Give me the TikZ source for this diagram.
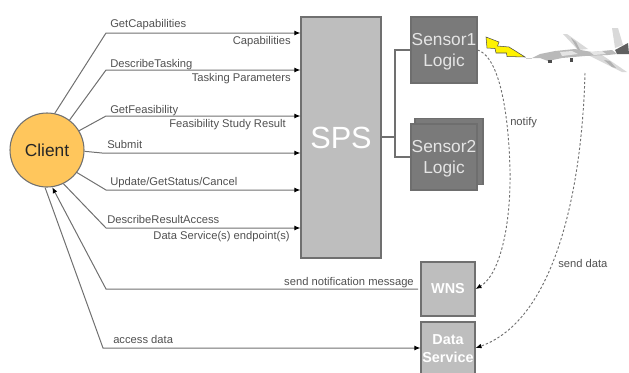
\documentclass[tikz,border=0pt]{standalone}
\usepackage{fontspec}
\setmainfont{Liberation Sans}
\usetikzlibrary{arrows.meta}
\definecolor{linec}{HTML}{707070}
\definecolor{txt}{HTML}{505050}
\definecolor{darkbox}{HTML}{7A7A7A}
\definecolor{lightbox}{HTML}{BEBEBE}
\definecolor{clientc}{HTML}{FFC65C}
\newcommand{\lowerline}[1]{\raisebox{-1.6pt}[9pt][3pt]{#1}}
\tikzset{
  conn/.style={draw=linec,line width=0.75pt},
  arr/.style={conn,-{Latex[black,length=4.5pt,width=3.6pt]}},
  dots/.style={draw=linec,line width=0.7pt,dash pattern=on 1.8pt off 1.5pt},
  dotarr/.style={dots,-{Latex[black,length=4.5pt,width=3.6pt]}},
  lab/.style={font=\fontsize{8.4pt}{10pt}\selectfont,text=txt,inner sep=0pt},
  sensorbox/.style={draw=darkbox!90!black,fill=darkbox,line width=0.8pt,minimum width=49.5pt,minimum height=49.5pt,inner sep=0pt,align=center,text=white!90!black,font=\fontsize{13pt}{15.8pt}\selectfont},
  servicebox/.style={draw=linec,fill=lightbox,line width=0.8pt,inner sep=0pt,minimum width=40.5pt,align=center,text=white,font=\bfseries\fontsize{10.8pt}{13.5pt}\selectfont},
  planelight/.style={fill=gray!30},
  planemid/.style={fill=gray!60}
}
\begin{document}
\begin{tikzpicture}[x=0.75pt,y=-0.75pt]
\useasboundingbox (0,0) rectangle (629,372);
% nodes
\node[circle,draw=linec,fill=clientc,line width=0.8pt,minimum size=55.5pt,inner sep=0pt,font=\fontsize{13pt}{15pt}\selectfont,text=black!85] (client) at (47,150) {Client};
\node[draw=linec,fill=lightbox,line width=0.8pt,minimum width=60pt,minimum height=180.75pt,inner sep=0pt,text=white,font=\fontsize{23pt}{26pt}\selectfont] (sps) at (341,137.5) {SPS};
\node[sensorbox] (s1) at (444,50) {\lowerline{Sensor1}\\\lowerline{Logic}};
\node[sensorbox,minimum width=51pt] (s2back) at (449,151.5) {};
\node[sensorbox] (s2) at (444,157) {\lowerline{Sensor2}\\\lowerline{Logic}};
\node[servicebox,minimum height=40.5pt] (wns) at (448,289) {WNS};
\node[servicebox,minimum height=40.5pt] (ds) at (448,349) {Data\\Service};
% waypoints
\coordinate (a1) at (106,33);
\coordinate (a2) at (106,70);
\coordinate (a3) at (106,116);
\coordinate (a4) at (102,153);
\coordinate (a5) at (106,190);
\coordinate (a6) at (106,228);
\coordinate (a7) at (106,289);
\coordinate (a8) at (103,348);
\coordinate (wnsend) at (418,289);
\coordinate (bus) at (395,137);
\coordinate (planeend) at (585,73);
% client to SPS
\draw[arr] (client.78) -- (a1) -- (sps.west |- a1);
\draw[arr] (client.53) -- (a2) -- (sps.west |- a2);
\draw[arr] (client.31) -- (a3) -- (sps.west |- a3);
\draw[arr] (client.-2) -- (a4) -- (sps.west |- a4);
\draw[arr] (client.-37) -- (a5) -- (sps.west |- a5);
\draw[arr] (client.-64) -- (a6) -- (sps.west |- a6);
% return
\draw[arr] (wnsend) -- (a7) -- (client.-82);
\draw[arr] (client.-93) -- (a8) -- (ds.west |- a8);
% SPS to sensors
\draw[conn,line width=1pt] (sps.east |- bus) -- (bus) (s1.west) -| (bus) |- (s2.west);
% dashed
\draw[dotarr] (s1.east) .. controls (495,55) and (508,95) .. (510,170) .. controls (511,225) and (500,275) .. (wns.east);
\draw[dotarr] (planeend) .. controls (582,190) and (555,320) .. (ds.east |- a8);
% labels
\node[lab,anchor=base west] (l1) at (110,27) {GetCapabilities};
\node[lab,anchor=base east] (l2) at (291,44) {Capabilities};
\node[lab,anchor=base west] (l3) at (110,67) {DescribeTasking};
\node[lab,anchor=base east] (l4) at (291,81) {Tasking Parameters};
\node[lab,anchor=base west] (l5) at (110,113) {GetFeasibility};
\node[lab,anchor=base east] (l6) at (286,127) {Feasibility Study Result};
\node[lab,anchor=base west] (l7) at (107,148) {Submit};
\node[lab,anchor=base west] (l8) at (110,185) {Update/GetStatus/Cancel};
\node[lab,anchor=base west] (l9) at (107,223) {DescribeResultAccess};
\node[lab,anchor=base east] (l10) at (290,239) {Data Service(s) endpoint(s)};
\node[lab,anchor=base east] (l11) at (414,285) {send notification message};
\node[lab,anchor=base west] (l12) at (113,343) {access data};
\node[lab,anchor=base west] (l13) at (510,125) {notify};
\node[lab,anchor=base west] (l14) at (558,267) {send data};
% lightning
\draw[fill=yellow,draw=gray!60!black,line width=0.4pt]
 (486,37) -- (499,42) -- (497.5,46) -- (509,47) -- (525,57) -- (507,56.5) -- (506.5,53) -- (496,53) -- (495,48.5) -- (487,48) -- cycle;
% aircraft
\fill[planelight] (563,34) -- (567,34) -- (588,49) -- (578,50) -- cycle;
\fill[planemid] (571,38) -- (576,42) -- (580,50) -- (578,50) -- cycle;
\fill[planelight] (588,55) -- (602,55) -- (627,72) -- (622,72) -- cycle;
\fill[planemid] (604,60) -- (610,61) -- (616,68) -- (612,67) -- cycle;
\fill[planelight] (612,28) -- (618,28) -- (623,45) -- (615,48) -- cycle;
\fill[gray!55!white] (532,58) -- (540,54) -- (555,51) -- (575,49) -- (592,52) -- (612,50) -- (617,54) -- (608,55) -- (585,56) -- (562,58) -- (548,61) -- (540,58) -- cycle;
\fill[gray!20] (560,52) -- (572,51) -- (578,54) -- (562,56) -- cycle;
\fill[gray!20] (590,52) -- (602,51) -- (606,54) -- (594,55) -- cycle;
\fill[gray!75!black] (615,50) -- (628,43) -- (629,54) -- (617,54) -- cycle;
\fill[black!70] (548,60) rectangle (552,63);
\fill[black!70] (570,58) rectangle (573,61.5);
\draw[gray!40,line width=0.5pt] (532,58) -- (526,58);
\end{tikzpicture}
\end{document}
